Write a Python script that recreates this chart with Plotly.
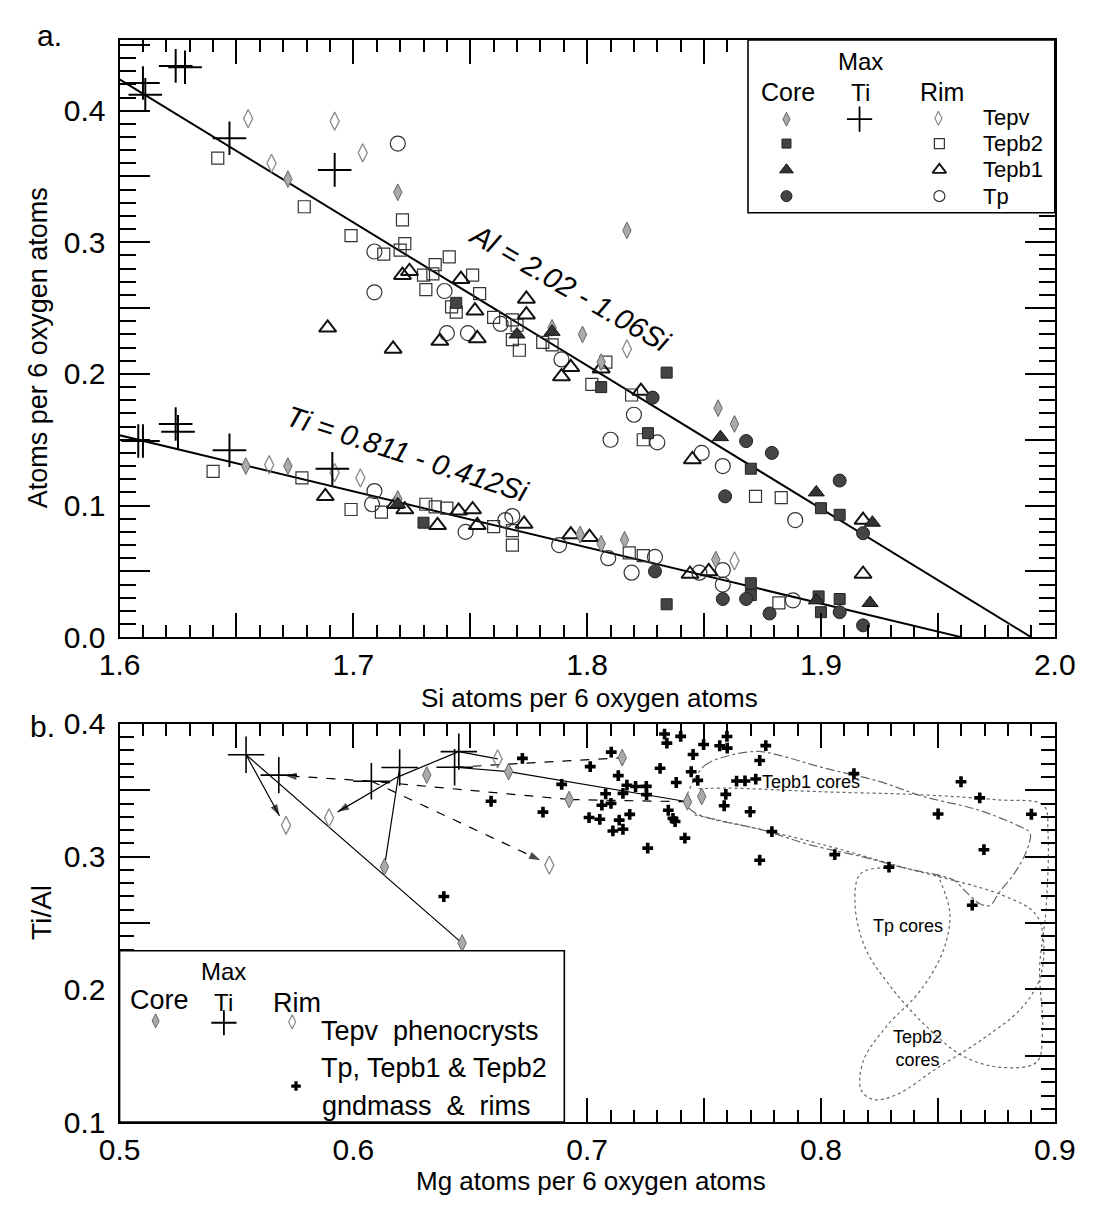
import plotly.graph_objects as go

W, H = 1095, 1215
FONT = "Liberation Sans, Arial, sans-serif"

# ---------------- Panel a: Al and Ti vs Si (atoms per 6 oxygen) ----------------
maxti_si_al = [1.610, 1.611, 1.624, 1.628, 1.647, 1.692]
maxti_al    = [0.421, 0.412, 0.434, 0.433, 0.379, 0.355]
maxti_si_ti = [1.608, 1.610, 1.624, 1.625, 1.647, 1.691]
maxti_ti    = [0.149, 0.149, 0.162, 0.156, 0.142, 0.128]

tepv_core_si_al = [1.672, 1.719, 1.785, 1.798, 1.817, 1.806, 1.856, 1.863]
tepv_core_al    = [0.348, 0.338, 0.235, 0.230, 0.309, 0.209, 0.174, 0.162]
tepv_core_si_ti = [1.654, 1.672, 1.719, 1.797, 1.806, 1.816, 1.855]
tepv_core_ti    = [0.130, 0.130, 0.105, 0.078, 0.071, 0.074, 0.059]
tepv_rim_si_al  = [1.655, 1.692, 1.704, 1.665, 1.817]
tepv_rim_al     = [0.394, 0.392, 0.368, 0.360, 0.219]
tepv_rim_si_ti  = [1.664, 1.703, 1.692, 1.863]
tepv_rim_ti     = [0.131, 0.121, 0.125, 0.058]

tepb2_rim_si_al = [1.642, 1.679, 1.699, 1.713, 1.721, 1.722, 1.720, 1.741, 1.735, 1.730,
                   1.734, 1.731, 1.751, 1.754, 1.742, 1.744, 1.760, 1.768, 1.770, 1.768,
                   1.771, 1.781, 1.785, 1.808, 1.802, 1.819, 1.824, 1.872, 1.883]
tepb2_rim_al    = [0.364, 0.327, 0.305, 0.291, 0.317, 0.299, 0.294, 0.289, 0.283, 0.275,
                   0.276, 0.264, 0.275, 0.261, 0.251, 0.247, 0.243, 0.241, 0.237, 0.226,
                   0.218, 0.224, 0.222, 0.209, 0.192, 0.184, 0.150, 0.107, 0.106]
tepb2_rim_si_ti = [1.640, 1.678, 1.699, 1.712, 1.731, 1.735, 1.740, 1.760, 1.768, 1.768,
                   1.818, 1.824, 1.882]
tepb2_rim_ti    = [0.126, 0.121, 0.097, 0.095, 0.101, 0.099, 0.098, 0.084, 0.070, 0.081,
                   0.064, 0.062, 0.026]
tepb2_core_si_al = [1.744, 1.806, 1.834, 1.826, 1.870, 1.900, 1.908]
tepb2_core_al    = [0.254, 0.190, 0.201, 0.155, 0.128, 0.098, 0.093]
tepb2_core_si_ti = [1.730, 1.834, 1.870, 1.870, 1.899, 1.900, 1.908]
tepb2_core_ti    = [0.087, 0.025, 0.041, 0.032, 0.031, 0.019, 0.029]

tepb1_rim_si_al = [1.689, 1.717, 1.721, 1.724, 1.746, 1.752, 1.737, 1.753, 1.774, 1.774,
                   1.793, 1.789, 1.806, 1.823, 1.845, 1.918]
tepb1_rim_al    = [0.235, 0.219, 0.275, 0.278, 0.272, 0.248, 0.225, 0.227, 0.257, 0.245,
                   0.205, 0.198, 0.204, 0.187, 0.135, 0.089]
tepb1_rim_si_ti = [1.688, 1.718, 1.722, 1.736, 1.745, 1.751, 1.753, 1.773, 1.793, 1.801,
                   1.844, 1.852, 1.918]
tepb1_rim_ti    = [0.107, 0.101, 0.097, 0.085, 0.096, 0.097, 0.085, 0.086, 0.078, 0.076,
                   0.048, 0.050, 0.048]
tepb1_core_si_al = [1.770, 1.785, 1.857, 1.898, 1.922]
tepb1_core_al    = [0.230, 0.232, 0.152, 0.110, 0.087]
tepb1_core_si_ti = [1.719, 1.898, 1.921]
tepb1_core_ti    = [0.101, 0.028, 0.026]

tp_rim_si_al = [1.719, 1.709, 1.709, 1.739, 1.763, 1.740, 1.749, 1.789, 1.810, 1.820,
                1.830, 1.849, 1.858, 1.889]
tp_rim_al    = [0.375, 0.293, 0.262, 0.263, 0.238, 0.231, 0.231, 0.211, 0.150, 0.169,
                0.148, 0.140, 0.130, 0.089]
tp_rim_si_ti = [1.709, 1.708, 1.748, 1.765, 1.768, 1.788, 1.809, 1.819, 1.829, 1.848,
                1.858, 1.858, 1.888]
tp_rim_ti    = [0.111, 0.101, 0.080, 0.089, 0.092, 0.070, 0.060, 0.049, 0.061, 0.049,
                0.051, 0.040, 0.028]
tp_core_si_al = [1.828, 1.868, 1.879, 1.859, 1.908, 1.918]
tp_core_al    = [0.182, 0.149, 0.140, 0.107, 0.119, 0.079]
tp_core_si_ti = [1.829, 1.858, 1.868, 1.878, 1.908, 1.918]
tp_core_ti    = [0.050, 0.029, 0.029, 0.018, 0.019, 0.009]

# regression lines as drawn: value = a - b*Si over the Si span shown
al_fit = (2.163, 1.087, [1.600, 1.990])
ti_fit = (0.835, 0.426, [1.598, 1.960])

# ---------------- Panel b: Ti/Al vs Mg ----------------
maxti_mg = [0.5541, 0.5681, 0.6077, 0.6198, 0.6451, 0.6433]
maxti_r  = [0.3767, 0.3614, 0.3568, 0.3671, 0.3791, 0.3673]
core_mg = [0.6465, 0.6133, 0.6314, 0.7150, 0.6923, 0.7429, 0.6664, 0.7490]
core_r  = [0.2348, 0.2922, 0.3614, 0.3745, 0.3430, 0.3413, 0.3640, 0.3453]
rim_mg = [0.5712, 0.5896, 0.6838, 0.6617]
rim_r  = [0.3236, 0.3292, 0.2936, 0.3736]

traj_mg = [[0.6465, 0.5541, 0.5684], [0.7429, 0.6923, 0.6077, 0.5708],
           [0.6133, 0.6198], [0.6451, 0.6186, 0.5933], [0.6451, 0.6617],
           [0.6077, 0.6800], [0.6433, 0.6664, 0.7429], [0.6433, 0.7150]]
traj_r = [[0.2348, 0.3767, 0.3308], [0.3413, 0.3430, 0.3568, 0.3610],
          [0.2922, 0.3671], [0.3791, 0.3597, 0.3337], [0.3791, 0.3736],
          [0.3568, 0.2973], [0.3673, 0.3640, 0.3413], [0.3673, 0.3745]]
traj_dash = ["solid", "dash", "solid", "solid", "solid", "dash", "solid", "dash"]
traj_arrow = [True, True, False, True, False, True, False, False]

gnd_mg = [0.6723, 0.6387, 0.6589, 0.6811, 0.6891, 0.7013, 0.7103, 0.7133, 0.7170, 0.7207,
          0.7253, 0.7254, 0.7079, 0.7153, 0.7063, 0.7102, 0.7008, 0.7054, 0.7137, 0.7182,
          0.7110, 0.7153, 0.7259, 0.7312, 0.7331, 0.7341, 0.7400, 0.7381, 0.7347, 0.7367,
          0.7376, 0.7418, 0.7453, 0.7445, 0.7473, 0.7498, 0.7567, 0.7599, 0.7598, 0.7764,
          0.7738, 0.7639, 0.7675, 0.7721, 0.7586, 0.7697, 0.7790, 0.7738, 0.8141, 0.7593,
          0.8059, 0.8599, 0.8679, 0.8501, 0.8900, 0.8697, 0.8291, 0.8647]
gnd_r  = [0.3740, 0.2699, 0.3417, 0.3335, 0.3544, 0.3678, 0.3787, 0.3610, 0.3538, 0.3528,
          0.3529, 0.3467, 0.3473, 0.3476, 0.3387, 0.3401, 0.3294, 0.3281, 0.3275, 0.3318,
          0.3193, 0.3206, 0.3064, 0.3665, 0.3923, 0.3855, 0.3906, 0.3558, 0.3349, 0.3288,
          0.3264, 0.3139, 0.3769, 0.3639, 0.3574, 0.3844, 0.3835, 0.3817, 0.3905, 0.3836,
          0.3724, 0.3569, 0.3570, 0.3584, 0.3383, 0.3338, 0.3188, 0.2973, 0.3625, 0.3469,
          0.3015, 0.3564, 0.3442, 0.3321, 0.3319, 0.3052, 0.2921, 0.2634]

tepb1_out_mg = [0.7436, 0.7502, 0.7611, 0.7734, 0.7830, 0.8010, 0.8245, 0.8438, 0.8673, 0.8839,
                0.8894, 0.8882, 0.8830, 0.8763, 0.8723, 0.8682, 0.8611, 0.8569, 0.8362, 0.8169,
                0.7948, 0.7741, 0.7534, 0.7451, 0.7423, 0.7436]
tepb1_out_r  = [0.3502, 0.3685, 0.3763, 0.3792, 0.3759, 0.3669, 0.3568, 0.3453, 0.3351, 0.3236,
                0.3178, 0.3054, 0.2881, 0.2731, 0.2632, 0.2643, 0.2750, 0.2822, 0.2912, 0.3002,
                0.3091, 0.3205, 0.3283, 0.3341, 0.3413, 0.3502]
tp_out_mg = [0.8279, 0.8168, 0.8146, 0.8191, 0.8300, 0.8446, 0.8613, 0.8779, 0.8923, 0.8948,
             0.8935, 0.8962, 0.8971, 0.8952, 0.8754, 0.8424, 0.8012, 0.7600, 0.7477]
tp_out_r  = [0.2918, 0.2870, 0.2634, 0.2305, 0.2016, 0.1729, 0.1492, 0.1411, 0.1453, 0.1711,
             0.2151, 0.2593, 0.3180, 0.3385, 0.3428, 0.3466, 0.3488, 0.3516, 0.3511]
tepb2_out_mg = [0.8497, 0.8551, 0.8521, 0.8422, 0.8281, 0.8181, 0.8172, 0.8226, 0.8328, 0.8491,
                0.8694, 0.8856, 0.8935, 0.8952, 0.8917, 0.8775, 0.8362, 0.7947, 0.7450]
tepb2_out_r  = [0.2868, 0.2577, 0.2282, 0.1984, 0.1722, 0.1461, 0.1241, 0.1169, 0.1210, 0.1400,
                0.1628, 0.1855, 0.2078, 0.2372, 0.2569, 0.2710, 0.2914, 0.3118, 0.3318]

# ---------------- figure ----------------
fig = go.Figure()

def sc(x, y, sym, size, color="#222", lw=1.3, fill=None, xa="x", ya="y"):
    fig.add_trace(go.Scatter(
        x=x, y=y, mode="markers", xaxis=xa, yaxis=ya, hoverinfo="skip",
        marker=dict(symbol=sym, size=size, color=fill if fill else color,
                    line=dict(color=color, width=lw))))

for a, b, span in (al_fit, ti_fit):
    fig.add_trace(go.Scatter(x=span, y=[a - b * s for s in span], mode="lines",
                             line=dict(color="black", width=2), hoverinfo="skip"))

for xs, ys in ((tepb2_rim_si_al, tepb2_rim_al), (tepb2_rim_si_ti, tepb2_rim_ti)):
    sc(xs, ys, "square-open", 12, "#333", 1.2)
for xs, ys in ((tp_rim_si_al, tp_rim_al), (tp_rim_si_ti, tp_rim_ti)):
    sc(xs, ys, "circle-open", 15, "#333", 1.2)
for xs, ys in ((tepb1_rim_si_al, tepb1_rim_al), (tepb1_rim_si_ti, tepb1_rim_ti)):
    sc(xs, ys, "triangle-up-open", 15, "#111", 2.0)
for xs, ys in ((tepv_rim_si_al, tepv_rim_al), (tepv_rim_si_ti, tepv_rim_ti)):
    sc(xs, ys, "diamond-tall-open", 13, "#888", 1.3)
for xs, ys in ((tepv_core_si_al, tepv_core_al), (tepv_core_si_ti, tepv_core_ti)):
    sc(xs, ys, "diamond-tall", 12, "#666", 1.0, fill="#aaa")
for xs, ys in ((tepb2_core_si_al, tepb2_core_al), (tepb2_core_si_ti, tepb2_core_ti)):
    sc(xs, ys, "square", 11, "#222", 1.0, fill="#444")
for xs, ys in ((tepb1_core_si_al, tepb1_core_al), (tepb1_core_si_ti, tepb1_core_ti)):
    sc(xs, ys, "triangle-up", 14, "#111", 1.0, fill="#333")
for xs, ys in ((tp_core_si_al, tp_core_al), (tp_core_si_ti, tp_core_ti)):
    sc(xs, ys, "circle", 13, "#222", 1.0, fill="#444")
for xs, ys in ((maxti_si_al, maxti_al), (maxti_si_ti, maxti_ti)):
    sc(xs, ys, "cross-thin-open", 24, "black", 2.0)

for mx, ry, dash in ((tepb1_out_mg, tepb1_out_r, "dashdot"), (tp_out_mg, tp_out_r, "dot"),
                     (tepb2_out_mg, tepb2_out_r, "dot")):
    fig.add_trace(go.Scatter(x=mx, y=ry, mode="lines", xaxis="x2", yaxis="y2",
                             line=dict(color="#666", width=1.2, dash=dash, shape="spline"),
                             hoverinfo="skip"))
for mx, ry, dash, arr in zip(traj_mg, traj_r, traj_dash, traj_arrow):
    n = len(mx)
    fig.add_trace(go.Scatter(
        x=mx, y=ry, mode="lines+markers", xaxis="x2", yaxis="y2", hoverinfo="skip",
        line=dict(color="black", width=1.2, dash="dash" if dash == "dash" else "solid"),
        marker=dict(symbol=["circle"] * (n - 1) + ["arrow"],
                    size=[0] * (n - 1) + ([12] if arr else [0]),
                    angleref="previous", color="black", line=dict(width=0))))
sc(gnd_mg, gnd_r, "cross", 9, "black", 0, fill="black", xa="x2", ya="y2")
sc(rim_mg, rim_r, "diamond-tall-open", 13, "#888", 1.3, xa="x2", ya="y2")
sc(core_mg, core_r, "diamond-tall", 12, "#666", 1.0, fill="#aaa", xa="x2", ya="y2")
sc(maxti_mg, maxti_r, "cross-thin-open", 26, "black", 1.6, xa="x2", ya="y2")

# ---------------- legends (drawn on a full-page pixel overlay) ----------------
def box(x0, y0, x1, y1):
    fig.add_trace(go.Scatter(x=[x0, x1, x1, x0, x0], y=[y0, y0, y1, y1, y0], mode="lines",
                             fill="toself", fillcolor="white", xaxis="x3", yaxis="y3",
                             line=dict(color="black", width=1.6), hoverinfo="skip"))

rows_a = [104, 131, 158, 185]
box(756, 24.5, 1075, 202)
sc([796], [rows_a[0] + 2], "diamond-tall", 10, "#666", 1.0, fill="#aaa", xa="x3", ya="y3")
sc([872], [rows_a[0] + 2], "cross-thin-open", 18, "black", 1.8, xa="x3", ya="y3")
sc([954], [rows_a[0] + 1], "diamond-tall-open", 10, "#888", 1.2, xa="x3", ya="y3")
sc([796], [rows_a[1]], "square", 9, "#222", 1.0, fill="#444", xa="x3", ya="y3")
sc([955], [rows_a[1]], "square-open", 10, "#333", 1.2, xa="x3", ya="y3")
sc([796], [rows_a[2]], "triangle-up", 12, "#111", 1.0, fill="#333", xa="x3", ya="y3")
sc([955], [rows_a[2]], "triangle-up-open", 12, "#111", 1.8, xa="x3", ya="y3")
sc([796], [rows_a[3]], "circle", 11, "#222", 1.0, fill="#444", xa="x3", ya="y3")
sc([955], [rows_a[3]], "circle-open", 11, "#333", 1.2, xa="x3", ya="y3")

box(102.5, 960, 565, 1136)
sc([140], [1032], "diamond-tall", 10, "#666", 1.0, fill="#aaa", xa="x3", ya="y3")
sc([211], [1034], "cross-thin-open", 18, "black", 1.8, xa="x3", ya="y3")
sc([282], [1033], "diamond-tall-open", 10, "#888", 1.2, xa="x3", ya="y3")
sc([286], [1099], "cross", 8, "black", 0, fill="black", xa="x3", ya="y3")

# ---------------- axes ----------------
def axis(dom, rng, tv, tt, tlen, mlen, dtick, tick0, stand):
    return dict(domain=dom, range=rng, tickmode="array", tickvals=tv, ticktext=tt,
                showline=True, linewidth=2, linecolor="black", mirror="allticks",
                ticks="inside", ticklen=tlen, tickwidth=1.5, tickcolor="black",
                showgrid=False, zeroline=False, ticklabelstandoff=stand,
                ticklabeloverflow="allow",
                tickfont=dict(family=FONT, size=30, color="black"),
                minor=dict(tickmode="linear", tick0=tick0, dtick=dtick, ticks="inside",
                           ticklen=mlen, tickwidth=1.5, tickcolor="black"))

xd = [102.5 / W, 1075 / W]
si_ticks = [1.6, 1.65, 1.7, 1.75, 1.8, 1.85, 1.9, 1.95, 2.0]
si_text = ["1.6", "", "1.7", "", "1.8", "", "1.9", "", "2.0"]
ya_ticks = [0.0, 0.05, 0.1, 0.15, 0.2, 0.25, 0.3, 0.35, 0.4, 0.45]
ya_text = ["0.0", "", "0.1", "", "0.2", "", "0.3", "", "0.4", ""]
mg_ticks = [0.5, 0.55, 0.6, 0.65, 0.7, 0.75, 0.8, 0.85, 0.9]
mg_text = ["0.5", "", "0.6", "", "0.7", "", "0.8", "", "0.9"]
yb_ticks = [0.1, 0.15, 0.2, 0.25, 0.3, 0.35, 0.4]
yb_text = ["0.1", "", "0.2", "", "0.3", "", "0.4"]

fig.update_layout(
    width=W, height=H, margin=dict(l=0, r=0, t=0, b=0),
    paper_bgcolor="white", plot_bgcolor="rgba(0,0,0,0)", showlegend=False,
    font=dict(family=FONT, color="black"),
    xaxis=dict(axis(xd, [1.6, 2.0], si_ticks, si_text, 24, 12, 0.01, 1.6, 0), anchor="y"),
    yaxis=dict(axis([1 - 638 / H, 1 - 24.5 / H], [0, 0.4538], ya_ticks, ya_text, 30, 16,
                    0.01, 0.0, 6), anchor="x"),
    xaxis2=dict(axis(xd, [0.5, 0.9], mg_ticks, mg_text, 24, 12, 0.01, 0.5, 0), anchor="y2"),
    yaxis2=dict(axis([1 - 1136 / H, 1 - 727 / H], [0.1, 0.4], yb_ticks, yb_text, 30, 14,
                     0.01, 0.1, 6), anchor="x2"),
    xaxis3=dict(domain=[0, 1], range=[0, W], visible=False, anchor="y3"),
    yaxis3=dict(domain=[0, 1], range=[H, 0], visible=False, anchor="x3"),
)

def ann(x, y, text, size, xanchor="center", angle=0, yanchor="middle"):
    fig.add_annotation(x=x / W, y=1 - y / H, xref="paper", yref="paper", text=text,
                       showarrow=False, xanchor=xanchor, yanchor=yanchor, textangle=angle,
                       font=dict(family=FONT, size=size, color="black"))

ann(30, 20, "a.", 30)
ann(22, 730, "b.", 30)
ann(591, 700, "Si atoms per 6 oxygen atoms", 26)
ann(593, 1196, "Mg atoms per 6 oxygen atoms", 26)
ann(18, 341, "Atoms per 6 oxygen atoms", 27, angle=-90)
ann(22, 921, "Ti/Al", 28, angle=-90)
ann(571, 279, "<i>Al = 2.02 - 1.06Si</i>", 29, angle=30)
ann(402, 450, "<i>Ti = 0.811 - 0.412Si</i>", 29, angle=18)
# legend a text
ann(873, 63, "Max<br>Ti", 24)
ann(798, 78, "Core", 25)
ann(958, 78, "Rim", 25)
for yy, t in zip(rows_a, ("Tepv", "Tepb2", "Tepb1", "Tp")):
    ann(998, yy, t, 22, xanchor="left")
# legend b text
ann(211, 997, "Max<br>Ti", 24)
ann(144, 1011, "Core", 27)
ann(287, 1014, "Rim", 27)
ann(310, 1042, "Tepv  phenocrysts", 27, xanchor="left")
ann(310, 1080, "Tp, Tepb1 &amp; Tepb2", 27, xanchor="left")
ann(311, 1119, "gndmass  &amp;  rims", 27, xanchor="left")
# field labels
ann(822, 787, "Tepb1 cores", 18)
ann(922, 935, "Tp cores", 18)
ann(932, 1060, "Tepb2<br>cores", 18)

fig.write_html("out.html")
